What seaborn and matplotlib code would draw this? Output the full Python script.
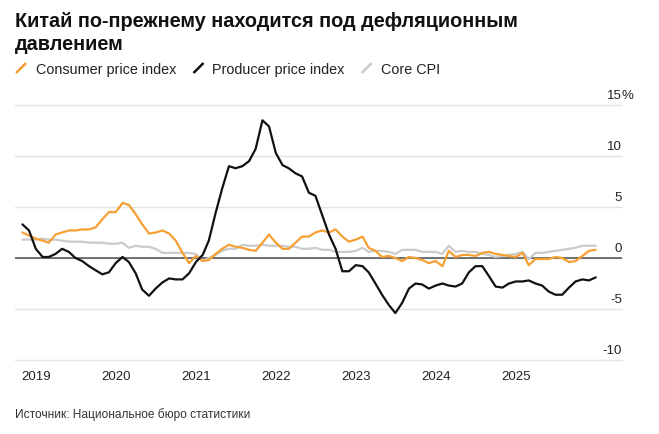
import pandas as pd
import seaborn as sns
import matplotlib.pyplot as plt
import matplotlib.dates as mdates
from matplotlib.ticker import FixedLocator
from matplotlib.lines import Line2D

# === Data: monthly YoY %, Oct 2018 - Dec 2025 ===
dates = pd.date_range('2018-10-31', '2025-12-31', freq='ME')

cpi = [2.5, 2.2, 1.9,
       1.7, 1.5, 2.3, 2.5, 2.7, 2.7, 2.8, 2.8, 3.0, 3.8, 4.5, 4.5,
       5.4, 5.2, 4.3, 3.3, 2.4, 2.5, 2.7, 2.4, 1.7, 0.5, -0.5, 0.2,
       -0.3, -0.2, 0.4, 0.9, 1.3, 1.1, 1.0, 0.8, 0.7, 1.5, 2.3, 1.5,
       0.9, 0.9, 1.5, 2.1, 2.1, 2.5, 2.7, 2.5, 2.8, 2.1, 1.6, 1.8,
       2.1, 1.0, 0.7, 0.1, 0.2, 0.0, -0.3, 0.1, 0.0, -0.2, -0.5, -0.3,
       -0.8, 0.7, 0.1, 0.3, 0.3, 0.2, 0.5, 0.6, 0.4, 0.3, 0.2, 0.1,
       0.5, -0.7, -0.1, -0.1, -0.1, 0.1, 0.0, -0.4, -0.3, 0.2, 0.7, 0.8]

ppi = [3.3, 2.7, 0.9,
       0.1, 0.1, 0.4, 0.9, 0.6, 0.0, -0.3, -0.8, -1.2, -1.6, -1.4, -0.5,
       0.1, -0.4, -1.5, -3.1, -3.7, -3.0, -2.4, -2.0, -2.1, -2.1, -1.5, -0.4,
       0.3, 1.7, 4.4, 6.8, 9.0, 8.8, 9.0, 9.5, 10.7, 13.5, 12.9, 10.3,
       9.1, 8.8, 8.3, 8.0, 6.4, 6.1, 4.2, 2.3, 0.9, -1.3, -1.3, -0.7,
       -0.8, -1.4, -2.5, -3.6, -4.6, -5.4, -4.4, -3.0, -2.5, -2.6, -3.0, -2.7,
       -2.5, -2.7, -2.8, -2.5, -1.4, -0.8, -0.8, -1.8, -2.8, -2.9, -2.5, -2.3,
       -2.3, -2.2, -2.5, -2.7, -3.3, -3.6, -3.6, -2.9, -2.3, -2.1, -2.2, -1.9]

core = [1.8, 1.8, 1.8,
        1.9, 1.8, 1.8, 1.7, 1.6, 1.6, 1.6, 1.5, 1.5, 1.5, 1.4, 1.4,
        1.5, 1.0, 1.2, 1.1, 1.1, 0.9, 0.5, 0.5, 0.5, 0.5, 0.5, 0.4,
        -0.3, 0.0, 0.3, 0.7, 0.9, 0.9, 1.3, 1.2, 1.2, 1.3, 1.2, 1.2,
        1.2, 1.1, 1.1, 0.9, 0.9, 1.0, 0.8, 0.8, 0.6, 0.6, 0.6, 0.7,
        1.0, 0.6, 0.7, 0.7, 0.6, 0.4, 0.8, 0.8, 0.8, 0.6, 0.6, 0.6,
        0.4, 1.2, 0.6, 0.7, 0.6, 0.6, 0.4, 0.3, 0.1, 0.2, 0.3, 0.4,
        0.6, -0.1, 0.5, 0.5, 0.6, 0.7, 0.8, 0.9, 1.0, 1.2, 1.2, 1.2]

series_names = ['Consumer price index', 'Producer price index', 'Core CPI']
colors = {'Consumer price index': '#f5a033',
          'Producer price index': '#111111',
          'Core CPI': '#cbcbcb'}
y_ticks = [-10, -5, 0, 5, 10, 15]
year_ticks = pd.date_range('2019-01-01', '2025-01-01', freq='YS')
quarter_ticks = [d for d in pd.date_range('2018-10-01', '2025-10-01', freq='QS') if d.month != 1]

df = pd.DataFrame({'date': dates,
                   'Consumer price index': cpi,
                   'Producer price index': ppi,
                   'Core CPI': core})
long = df.melt(id_vars='date', var_name='series', value_name='value')

# === Figure ===
sns.set_style('white')
plt.rcParams['font.family'] = ['Liberation Sans', 'DejaVu Sans']

fig = plt.figure(figsize=(6.59, 4.35), dpi=100)
W, H = 659, 435
ax = fig.add_axes([15 / W, 74 / H, 607 / W, 255 / H])

sns.lineplot(data=long, x='date', y='value', hue='series',
             hue_order=['Core CPI', 'Consumer price index', 'Producer price index'],
             palette=colors, linewidth=1.6, legend=False, ax=ax)

ax.set_xlim(pd.Timestamp('2018-09-27'), pd.Timestamp('2026-04-30'))
ax.set_ylim(-10, 15)
ax.set_xlabel('')
ax.set_ylabel('')
for s in ax.spines.values():
    s.set_visible(False)

# y grid + right-side labels sitting above the lines
ax.set_yticks(y_ticks)
ax.set_yticklabels([])
ax.tick_params(axis='y', length=0)
ax.set_axisbelow(True)
ax.grid(axis='y', color='#e3e3e3', linewidth=1.0)
ax.grid(axis='x', visible=False)
for gl in ax.get_ygridlines():
    gl.set_clip_on(False)
ax.axhline(0, color='#4d4d4d', linewidth=1.1, zorder=1.5)

ytr = ax.get_yaxis_transform()
for v in y_ticks:
    ax.text(1.0, v + 0.65, str(v), transform=ytr, ha='right', va='baseline',
            fontsize=9.5, color='#222222')
ax.text(1.0, 15.65, '%', transform=ytr, ha='left', va='baseline',
        fontsize=9.5, color='#222222')

# x ticks
ax.xaxis.set_major_locator(FixedLocator(mdates.date2num(year_ticks)))
ax.xaxis.set_minor_locator(FixedLocator(mdates.date2num(quarter_ticks)))
ax.xaxis.set_major_formatter(mdates.DateFormatter('%Y'))
ax.tick_params(axis='x', which='major', direction='out', length=4.3, width=0.9,
               color='#333333', pad=3, labelsize=9.5, labelcolor='#222222')
ax.tick_params(axis='x', which='minor', direction='out', length=2.2, width=0.8,
               color='#b5b5b5')

# === Title ===
fig.text(15 / W, 1 - 27 / H, 'Китай по-прежнему находится под дефляционным',
         fontsize=14.3, fontweight='bold', va='baseline', color='#111111')
fig.text(15 / W, 1 - 50 / H, 'давлением',
         fontsize=14.3, fontweight='bold', va='baseline', color='#111111')

# === Legend (slash swatches) ===
legend_items = [('Consumer price index', 16, 35.7),
                ('Producer price index', 193.5, 211.7),
                ('Core CPI', 361.7, 380.7)]
for name, sx, tx in legend_items:
    fig.add_artist(Line2D([sx / W, (sx + 10) / W], [1 - 74 / H, 1 - 64 / H],
                          transform=fig.transFigure, color=colors[name],
                          linewidth=1.8, solid_capstyle='butt'))
    fig.text(tx / W, 1 - 74 / H, name, fontsize=10.4, va='baseline', color='#222222')

# === Source ===
fig.text(15 / W, 1 - 418 / H, 'Источник: Национальное бюро статистики',
         fontsize=8.6, va='baseline', color='#333333')

fig.savefig('out.png', dpi=100)
